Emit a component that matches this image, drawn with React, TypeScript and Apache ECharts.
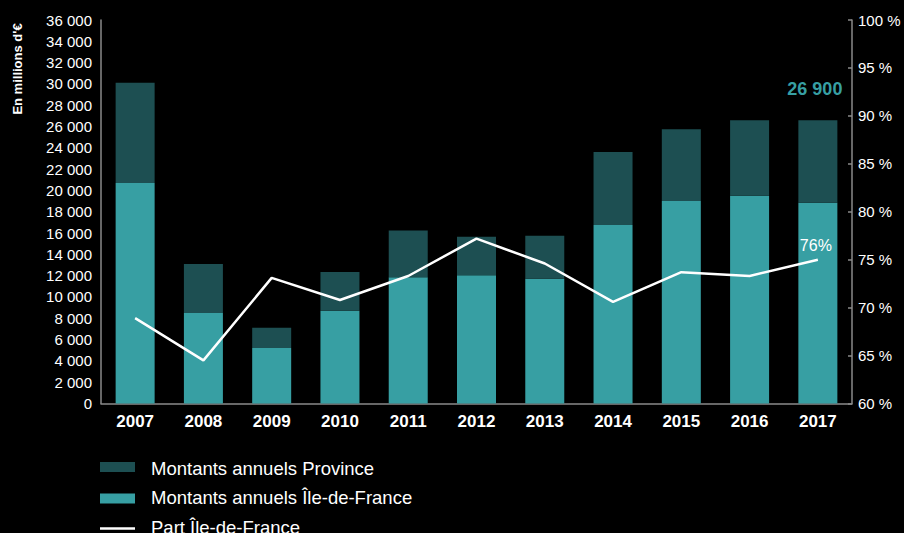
import React, { useEffect, useRef } from "react";
import * as echarts from "echarts";

const years = ["2007", "2008", "2009", "2010", "2011", "2012", "2013", "2014", "2015", "2016", "2017"];
const idfValues = [20700, 8500, 5200, 8700, 11850, 12050, 11700, 16750, 19000, 19500, 18850];
const provinceValues = [9400, 4600, 1900, 3650, 4400, 3600, 4050, 6850, 6750, 7100, 7750];
const idfShare = [68.9, 64.5, 73.1, 70.8, 73.3, 77.2, 74.6, 70.6, 73.7, 73.3, 75.0];
const totalLabel2017 = "26 900";
const shareLabel2017 = "76%";
const seriesNames = ["Montants annuels Province", "Montants annuels Île-de-France", "Part Île-de-France"];
const yAxisTitle = "En millions d'€";

const FONT = "'Liberation Sans', Arial, Helvetica, sans-serif";
const IDF_COLOR = "#379fa3";
const PROV_COLOR = "#1d4f52";
const AXIS_COLOR = "#8a8a8a";

export default function App() {
  const ref = useRef<HTMLDivElement>(null);
  useEffect(() => {
    if (!ref.current) return;
    const chart = echarts.init(ref.current, undefined, { renderer: "svg" });
    const last = years.length - 1;
    const legendText = (text: string, y: number) => ({
      type: "text",
      x: 151,
      y,
      style: { text, fill: "#ffffff", font: `18.5px ${FONT}`, verticalAlign: "middle", align: "left" },
    });
    chart.setOption({
      animation: false,
      backgroundColor: "#000000",
      textStyle: { fontFamily: FONT },
      grid: { left: 101, right: 52, top: 20, bottom: 129.5, containLabel: false },
      graphic: [
        {
          type: "text",
          x: 17,
          y: 69,
          rotation: Math.PI / 2,
          style: {
            text: yAxisTitle,
            fill: "#ffffff",
            font: `bold 13px ${FONT}`,
            align: "center",
            verticalAlign: "middle",
          },
        },
        { type: "rect", shape: { x: 100, y: 462, width: 35, height: 10 }, style: { fill: PROV_COLOR } },
        legendText(seriesNames[0], 468),
        { type: "rect", shape: { x: 100, y: 493.5, width: 35, height: 10 }, style: { fill: IDF_COLOR } },
        legendText(seriesNames[1], 497.5),
        {
          type: "line",
          shape: { x1: 100, y1: 528.5, x2: 135, y2: 528.5 },
          style: { stroke: "#ffffff", lineWidth: 2.5 },
        },
        legendText(seriesNames[2], 527),
      ],
      xAxis: {
        type: "category",
        data: years,
        axisLine: { show: true, lineStyle: { color: AXIS_COLOR, width: 1.5 } },
        axisTick: { show: false },
        axisLabel: { color: "#ffffff", fontSize: 17, fontWeight: "bold", margin: 9, fontFamily: FONT },
      },
      yAxis: [
        {
          type: "value",
          min: 0,
          max: 36000,
          interval: 2000,
          axisLine: { show: true, lineStyle: { color: AXIS_COLOR, width: 1.5 } },
          axisTick: { show: false },
          splitLine: { show: false },
          axisLabel: {
            color: "#ffffff",
            fontSize: 15,
            margin: 9,
            fontFamily: FONT,
            formatter: (v: number) => v.toLocaleString("en-US").replace(/,/g, " "),
          },
        },
        {
          type: "value",
          position: "right",
          min: 60,
          max: 100,
          interval: 5,
          axisLine: { show: true, lineStyle: { color: AXIS_COLOR, width: 1.5 } },
          axisTick: { show: true, inside: true, length: 4, lineStyle: { color: AXIS_COLOR, width: 1.5 } },
          splitLine: { show: false },
          axisLabel: { color: "#ffffff", fontSize: 15, margin: 6, fontFamily: FONT, formatter: "{value} %" },
        },
      ],
      series: [
        {
          name: seriesNames[1],
          type: "bar",
          stack: "total",
          barWidth: 39,
          itemStyle: { color: IDF_COLOR },
          data: idfValues,
        },
        {
          name: seriesNames[0],
          type: "bar",
          stack: "total",
          barWidth: 39,
          itemStyle: { color: PROV_COLOR },
          data: provinceValues.map((v, i) =>
            i === last
              ? {
                  value: v,
                  label: {
                    show: true,
                    position: "top",
                    distance: 22,
                    offset: [-3, 0],
                    formatter: () => totalLabel2017,
                    color: IDF_COLOR,
                    fontSize: 18,
                    fontWeight: "bold",
                    fontFamily: FONT,
                  },
                }
              : v
          ),
        },
        {
          name: seriesNames[2],
          type: "line",
          yAxisIndex: 1,
          symbol: "none",
          showSymbol: false,
          z: 5,
          lineStyle: { color: "#ffffff", width: 2.5 },
          itemStyle: { color: "#ffffff" },
          endLabel: {
            show: true,
            formatter: () => shareLabel2017,
            color: "#ffffff",
            fontSize: 16,
            fontFamily: FONT,
            distance: 0,
            align: "center",
            verticalAlign: "middle",
            offset: [-2, -14],
          },
          data: idfShare,
        },
      ],
    });
    return () => chart.dispose();
  }, []);
  return (
    <div
      ref={ref}
      style={{ position: "fixed", left: 0, top: 0, width: 904, height: 533, background: "#000000" }}
    />
  );
}
